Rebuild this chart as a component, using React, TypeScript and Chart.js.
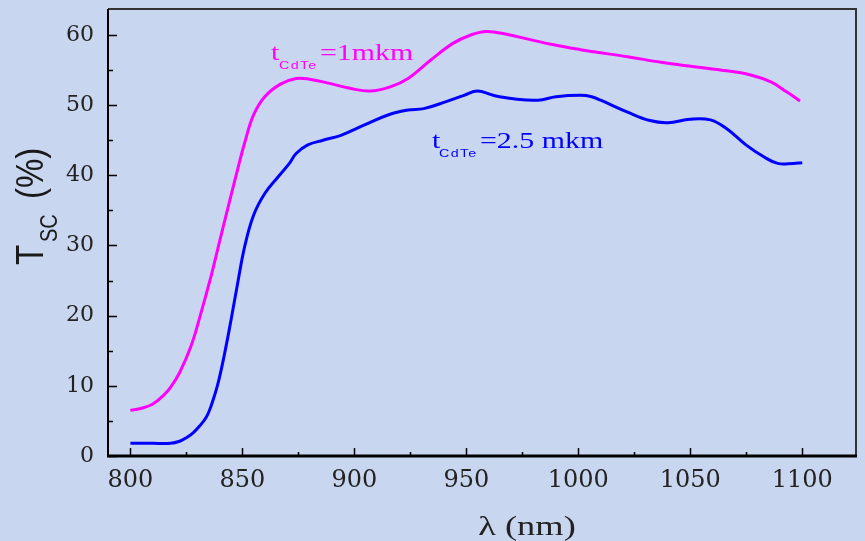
import React, { useEffect, useRef } from 'react';
import { Chart, registerables } from 'chart.js';

Chart.register(...registerables);

// ---- Data ----
const wavelengthThin = [800, 805, 810, 815, 818, 822, 827, 831, 836, 840, 845, 848, 851, 855, 860, 867, 874, 880, 889, 898, 907, 916, 924, 934, 944, 952, 959, 968, 979, 989, 1001, 1007, 1022, 1037, 1051, 1066, 1077, 1086, 1093, 1099];
const tscThin = [6.5, 6.8, 7.4, 8.7, 9.8, 11.9, 15.6, 19.8, 25.6, 30.8, 37.2, 41.0, 44.6, 48.6, 51.2, 53, 53.8, 53.7, 53.1, 52.4, 52, 52.6, 53.8, 56.4, 58.8, 60, 60.5, 60.1, 59.3, 58.6, 57.9, 57.6, 56.9, 56.1, 55.5, 54.9, 54.3, 53.3, 51.9, 50.6];

const wavelengthThick = [800, 810, 818, 822, 825, 828, 831, 834, 836, 839, 842, 845, 848, 851, 855, 860, 866, 871, 874, 879, 886, 894, 904, 915, 924, 931, 941, 949, 955, 962, 971, 982, 990, 1001, 1006, 1010, 1022, 1032, 1040, 1050, 1059, 1066, 1075, 1083, 1089, 1096, 1100];
const tscThick = [1.8, 1.8, 1.8, 2.1, 2.6, 3.3, 4.3, 5.6, 7.1, 10.2, 14.5, 19.5, 24.8, 29.8, 34.3, 37.4, 39.8, 41.7, 43.1, 44.3, 45, 45.7, 47.1, 48.6, 49.3, 49.5, 50.5, 51.4, 52, 51.4, 50.9, 50.7, 51.2, 51.4, 51.2, 50.7, 49, 47.8, 47.5, 48, 47.9, 46.7, 44.3, 42.6, 41.7, 41.7, 41.8];

const xMajorTicks = [800, 850, 900, 950, 1000, 1050, 1100];
const xMinorTicks = [825, 875, 925, 975, 1025, 1075];
const yMajorTicks = [0, 10, 20, 30, 40, 50, 60];
const yMinorTicks = [5, 15, 25, 35, 45, 55];

const thinLabel = ['t', 'CdTe', '=1mkm'];
const thickLabel = ['t', 'CdTe', '=2.5 mkm'];
const xTitle = 'λ (nm)';
const yTitle = ['T', 'SC', '(%)'];

const MAGENTA = '#ff00ff';
const BLUE = '#0000ff';
const BG = '#c9d6ef';

function stretchText(ctx: CanvasRenderingContext2D, text: string, x: number, y: number, font: string, color: string, sx: number) {
  ctx.save();
  ctx.translate(x, y);
  ctx.scale(sx, 1);
  ctx.font = font;
  ctx.fillStyle = color;
  ctx.textBaseline = 'alphabetic';
  ctx.textAlign = 'left';
  ctx.fillText(text, 0, 0);
  ctx.restore();
}

const decor = {
  id: 'decor',
  beforeDraw(chart: any) {
    const { ctx, width, height } = chart;
    ctx.save();
    ctx.fillStyle = BG;
    ctx.fillRect(0, 0, width, height);
    ctx.restore();
  },
  afterDraw(chart: any) {
    const { ctx, chartArea: a, scales } = chart;
    const x = scales.x;
    const y = scales.y;
    ctx.save();
    // frame top/right
    ctx.strokeStyle = '#333';
    ctx.lineWidth = 2;
    ctx.beginPath();
    ctx.moveTo(a.left, a.top);
    ctx.lineTo(a.right, a.top);
    ctx.lineTo(a.right, a.bottom);
    ctx.stroke();
    // left axis
    ctx.strokeStyle = '#000';
    ctx.lineWidth = 2;
    ctx.beginPath();
    ctx.moveTo(a.left, a.top);
    ctx.lineTo(a.left, a.bottom + 1);
    ctx.stroke();
    // bottom axis
    ctx.lineWidth = 3;
    ctx.beginPath();
    ctx.moveTo(a.left - 1, a.bottom);
    ctx.lineTo(a.right + 1, a.bottom);
    ctx.stroke();
    // inward ticks
    ctx.lineWidth = 1.5;
    ctx.beginPath();
    xMajorTicks.forEach((v) => {
      const px = Math.round(x.getPixelForValue(v)) + 0.5;
      ctx.moveTo(px, a.bottom);
      ctx.lineTo(px, a.bottom - 8);
    });
    xMinorTicks.forEach((v) => {
      const px = Math.round(x.getPixelForValue(v)) + 0.5;
      ctx.moveTo(px, a.bottom);
      ctx.lineTo(px, a.bottom - 4);
    });
    yMajorTicks.forEach((v) => {
      const py = Math.round(y.getPixelForValue(v)) + 0.5;
      ctx.moveTo(a.left, py);
      ctx.lineTo(a.left + 9, py);
    });
    yMinorTicks.forEach((v) => {
      const py = Math.round(y.getPixelForValue(v)) + 0.5;
      ctx.moveTo(a.left, py);
      ctx.lineTo(a.left + 5, py);
    });
    ctx.stroke();

    // curve annotations
    const mainFont = '23px "Liberation Serif", serif';
    const subFont = '11px "Liberation Sans", sans-serif';
    stretchText(ctx, thinLabel[0], 271, 60, mainFont, MAGENTA, 1.3);
    ctx.save();
    (ctx as any).letterSpacing = '1px';
    stretchText(ctx, thinLabel[1], 279, 69, subFont, MAGENTA, 1.3);
    ctx.restore();
    stretchText(ctx, thinLabel[2], 320, 60, mainFont, MAGENTA, 1.3);

    stretchText(ctx, thickLabel[0], 432, 148, mainFont, BLUE, 1.3);
    ctx.save();
    (ctx as any).letterSpacing = '1px';
    stretchText(ctx, thickLabel[1], 439, 157, subFont, BLUE, 1.3);
    ctx.restore();
    stretchText(ctx, thickLabel[2], 480, 148, mainFont, BLUE, 1.3);

    // x title
    ctx.save();
    ctx.font = '28px "Liberation Serif", serif';
    const w = ctx.measureText(xTitle).width * 1.3;
    ctx.restore();
    stretchText(ctx, xTitle, 527 - w / 2, 535, '28px "Liberation Serif", serif', '#222', 1.3);

    // y title (rotated)
    ctx.save();
    ctx.translate(43, 265);
    ctx.rotate(-Math.PI / 2);
    ctx.fillStyle = '#1a1a1a';
    const drawPiece = (t: string, lx: number, ly: number, font: string) => {
      ctx.save();
      ctx.translate(lx, ly);
      ctx.scale(1, 1.2);
      ctx.font = font;
      ctx.fillText(t, 0, 0);
      ctx.restore();
    };
    drawPiece(yTitle[0], 0, 0, '33px "Liberation Sans", sans-serif');
    drawPiece(yTitle[1], 23, 14, '20px "Liberation Sans", sans-serif');
    drawPiece(yTitle[2], 66, 0, '33px "Liberation Sans", sans-serif');
    ctx.restore();

    ctx.restore();
  },
};

export default function App() {
  const ref = useRef<HTMLCanvasElement | null>(null);
  useEffect(() => {
    if (!ref.current) return;
    const chart = new Chart(ref.current, {
      type: 'line',
      data: {
        datasets: [
          {
            label: 'tCdTe=1mkm',
            data: wavelengthThin.map((v, i) => ({ x: v, y: tscThin[i] })),
            borderColor: MAGENTA,
            borderWidth: 3,
            pointRadius: 0,
            fill: false,
            tension: 0.4,
          },
          {
            label: 'tCdTe=2.5 mkm',
            data: wavelengthThick.map((v, i) => ({ x: v, y: tscThick[i] })),
            borderColor: BLUE,
            borderWidth: 3,
            pointRadius: 0,
            fill: false,
            tension: 0.4,
          },
        ],
      },
      options: {
        responsive: false,
        animation: false,
        devicePixelRatio: 1,
        layout: { padding: { top: 9, right: 9, left: 0, bottom: 0 } },
        plugins: { legend: { display: false }, tooltip: { enabled: false } },
        scales: {
          x: {
            type: 'linear',
            min: 790,
            max: 1124,
            afterFit: (s: any) => { s.height = 85; s.paddingLeft = 0; s.paddingRight = 0; },
            afterBuildTicks: (s: any) => { s.ticks = xMajorTicks.map((v) => ({ value: v })); },
            grid: { display: false, drawTicks: false },
            border: { display: false },
            ticks: {
              padding: 10,
              color: '#222',
              font: { family: '"DejaVu Serif", serif', size: 24 },
              maxRotation: 0,
              autoSkip: false,
              callback: (v: any) => String(v),
            },
          },
          y: {
            type: 'linear',
            min: 0,
            max: 63.7,
            afterFit: (s: any) => { s.width = 108; s.paddingTop = 0; s.paddingBottom = 0; },
            afterBuildTicks: (s: any) => { s.ticks = yMajorTicks.map((v) => ({ value: v })); },
            grid: { display: false, drawTicks: false },
            border: { display: false },
            ticks: {
              padding: 14,
              color: '#222',
              font: { family: '"DejaVu Serif", serif', size: 22 },
              autoSkip: false,
              callback: (v: any) => String(v),
            },
          },
        },
      },
      plugins: [decor],
    } as any);
    return () => chart.destroy();
  }, []);
  return (
    <canvas
      ref={ref}
      width={865}
      height={541}
      style={{ position: 'fixed', left: 0, top: 0, width: 865, height: 541, display: 'block' }}
    />
  );
}
